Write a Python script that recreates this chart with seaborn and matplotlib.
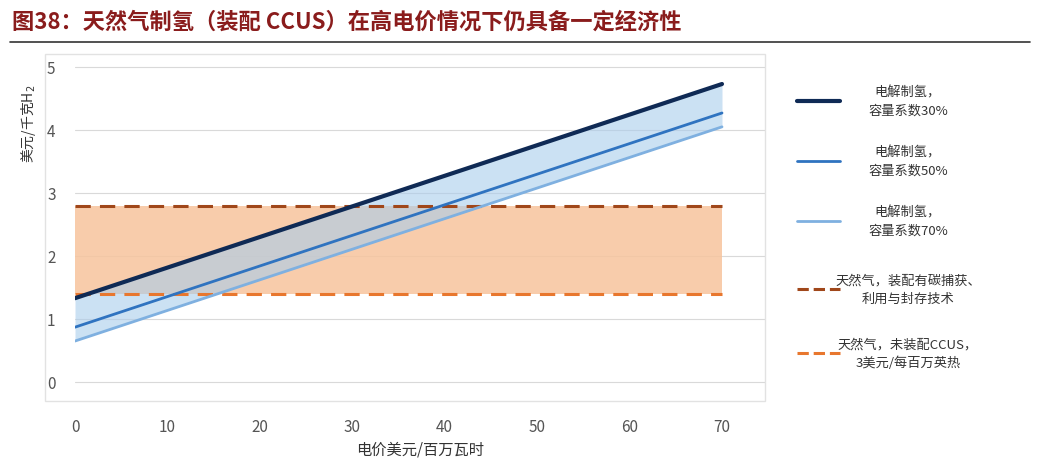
import numpy as np
import pandas as pd
import matplotlib.pyplot as plt
import seaborn as sns
from matplotlib.lines import Line2D
from matplotlib.patches import Rectangle

# data
price = [0, 70]
cap30 = [1.33, 4.73]
cap50 = [0.87, 4.27]
cap70 = [0.65, 4.05]
gas_ccus = 2.8
gas_plain = 1.4

sns.set_theme(style="white")
plt.rcParams['font.family'] = ['Noto Sans CJK SC', 'DejaVu Sans']

fig = plt.figure(figsize=(10.4, 4.64), dpi=100)
W, H = 1040, 464
ax = fig.add_axes([75 / W, 1 - 400 / H, (765 - 75) / W, (400 - 55) / H])

c30, c50, c70 = "#0f2a55", "#2f73c0", "#7fb0e0"
cdark, corange = "#a0471a", "#e8772e"

ax.fill_between([0, 70], gas_plain, gas_ccus, color="#f7c49d", alpha=0.85, lw=0, zorder=1)
ax.fill_between(price, cap70, cap30, color="#a9cdec", alpha=0.6, lw=0, zorder=2)

df = pd.DataFrame({"x": price * 3, "y": cap30 + cap50 + cap70,
                   "s": ["30"] * 2 + ["50"] * 2 + ["70"] * 2})
sns.lineplot(data=df, x="x", y="y", hue="s", palette=[c30, c50, c70],
             ax=ax, legend=False, zorder=4)
for l, w in zip(ax.lines, [3, 2, 2]):
    l.set_linewidth(w)
ax.plot([0, 70], [gas_ccus] * 2, ls=(0, (5, 3)), color=cdark, lw=2.2, zorder=3)
ax.plot([0, 70], [gas_plain] * 2, ls=(0, (5, 3)), color=corange, lw=2.2, zorder=3)

ax.set_xlim(0, 70 * 690 / 647)
ax.set_ylim(-0.27, 5 + 13 / 63)
ax.set_yticks(range(6))
ax.set_xticks(range(0, 80, 10))
ax.yaxis.grid(True, color="#d9d9d9", lw=0.8)
ax.xaxis.grid(False)
for s in ax.spines.values():
    s.set_visible(False)
ax.tick_params(colors="#555555", labelsize=11, length=0, pad=14)
ax.set_xlabel("电价美元/百万瓦时", fontsize=11, color="#333333", labelpad=4)
ax.set_ylabel("美元/千克H$_2$", fontsize=10, color="#333333")
ax.yaxis.set_label_coords(-0.054, 0.80)

fig.patches.append(Rectangle((45 / W, 1 - 402 / H), 720 / W, 347 / H, transform=fig.transFigure,
                             fill=False, ec="#e2e2e2", lw=1))

# title
fig.text(12 / W, 1 - 22 / H, "图38：天然气制氢（装配 CCUS）在高电价情况下仍具备一定经济性",
         fontsize=16, fontweight="bold", color="#8a1c1c", va="center")
fig.lines.append(Line2D([10 / W, 1030 / W], [1 - 43 / H] * 2, color="#333333", lw=1.2,
                        transform=fig.transFigure))

# legend
items = [(c30, "-", 3, "电解制氢，\n容量系数30%", 102),
         (c50, "-", 2, "电解制氢，\n容量系数50%", 162),
         (c70, "-", 2, "电解制氢，\n容量系数70%", 222),
         (cdark, "--", 2.2, "天然气，装配有碳捕获、\n利用与封存技术", 290),
         (corange, "--", 2.2, "天然气，未装配CCUS，\n3美元/每百万英热", 354)]
for col, ls, lw, txt, yp in items:
    fig.lines.append(Line2D([797 / W, 840 / W], [1 - yp / H] * 2, color=col, ls=ls, lw=lw,
                            transform=fig.transFigure))
    fig.text(908 / W, 1 - yp / H, txt, fontsize=9.5, color="#333333", ha="center",
             va="center", linespacing=1.5)

fig.savefig("out.png", dpi=100)
